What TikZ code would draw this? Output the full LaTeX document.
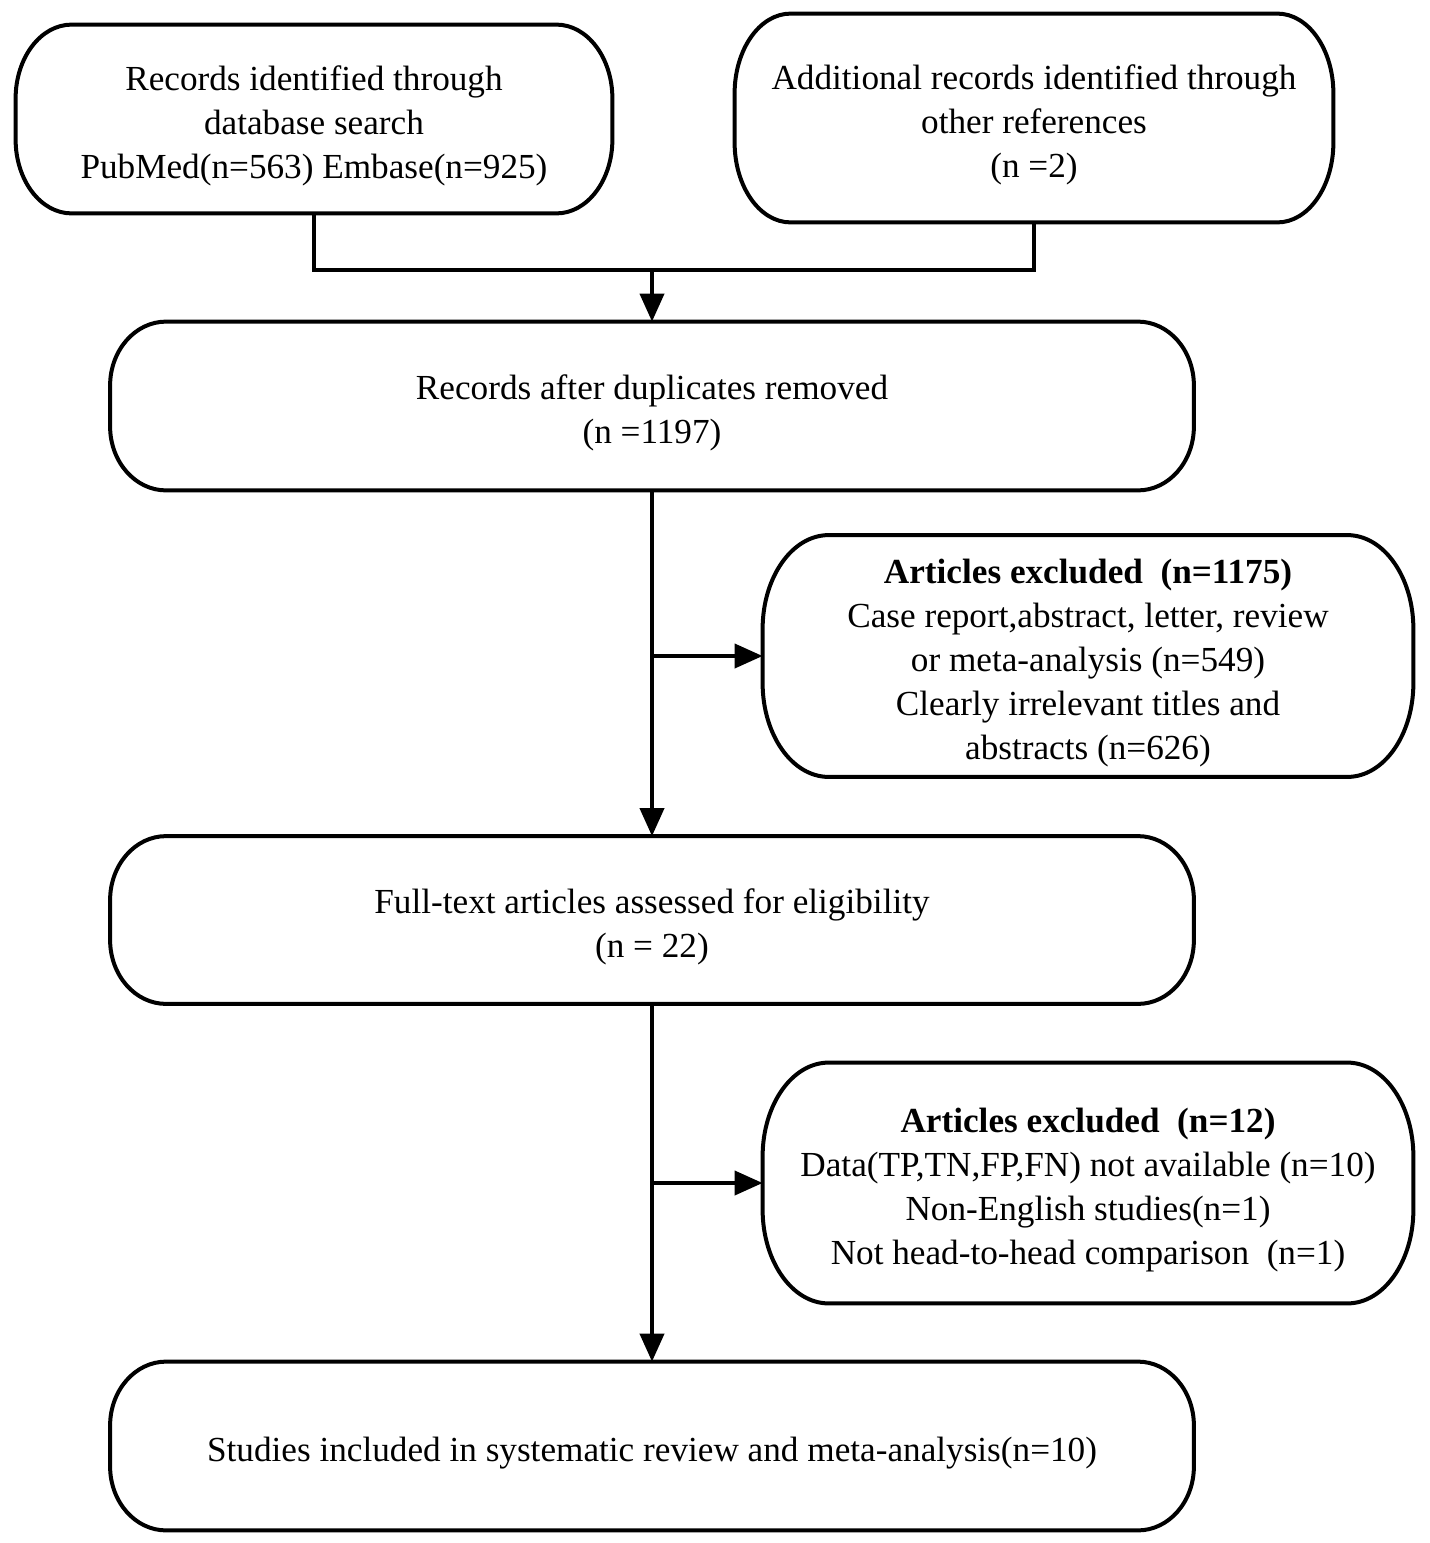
\documentclass[tikz,border=0pt]{standalone}
\usepackage{fontspec}
\setmainfont{Liberation Serif}
\usetikzlibrary{arrows.meta}
\newcommand\topfix{\rule{0pt}{19pt}}
% elliptical-corner border around a named node: #1 name, #2 x radius, #3 y radius
\newcommand\eborder[3]{%
  \draw[line width=2pt]
    ([xshift=#2]#1.north west) -- ([xshift=-#2]#1.north east)
    arc[start angle=90,end angle=0,x radius=#2,y radius=#3]
    -- ([yshift=#3]#1.south east)
    arc[start angle=0,end angle=-90,x radius=#2,y radius=#3]
    -- ([xshift=#2]#1.south west)
    arc[start angle=-90,end angle=-180,x radius=#2,y radius=#3]
    -- ([yshift=-#3]#1.north west)
    arc[start angle=180,end angle=90,x radius=#2,y radius=#3] -- cycle;}
\begin{document}
\begin{tikzpicture}[x=0.5pt,y=-0.5pt,
  box/.style={align=center,font=\fontsize{17.6}{22}\selectfont,inner sep=0pt},
  conn/.style={line width=2pt},
  arr/.style={line width=2pt,-{Triangle[length=14pt,width=12pt]}}]
\fill[white] (0,0) rectangle (1430,1543);
\useasboundingbox (0,0) rectangle (1430,1543);
\node[box,minimum width=298pt,minimum height=94pt] (a) at (314,119)
  {\topfix Records identified through\\database search\\PubMed(n=563) Embase(n=925)};
\node[box,minimum width=299pt,minimum height=104pt] (b) at (1034,118)
  {\topfix Additional records identified through\\other references\\(n =2)};
\node[box,minimum width=541.5pt,minimum height=84pt] (c) at (652,406)
  {\topfix Records after duplicates removed\\(n =1197)};
\node[box,minimum width=325pt,minimum height=120.5pt] (d) at (1088,656)
  {\topfix\textbf{Articles excluded\ \ (n=1175)}\\Case report,abstract, letter, review\\or meta-analysis (n=549)\\Clearly irrelevant titles and\\abstracts (n=626)};
\node[box,minimum width=541.5pt,minimum height=83.5pt] (e) at (652,920)
  {\topfix Full-text articles assessed for eligibility\\(n = 22)};
\node[box,minimum width=325pt,minimum height=120pt] (f) at (1088,1183)
  {\topfix\textbf{Articles excluded\ \ (n=12)}\\Data(TP,TN,FP,FN) not available (n=10)\\Non-English studies(n=1)\\Not head-to-head comparison\ \ (n=1)};
\node[box,minimum width=541.5pt,minimum height=84pt] (g) at (652,1446)
  {\topfix Studies included in systematic review and meta-analysis(n=10)};
\eborder{a}{28pt}{37pt}
\eborder{b}{28pt}{40pt}
\eborder{c}{28pt}{32pt}
\eborder{d}{33pt}{47pt}
\eborder{e}{28pt}{32pt}
\eborder{f}{33pt}{47pt}
\eborder{g}{28pt}{32pt}
\coordinate (j) at (652,270);
\draw[conn] (a.south) |- (j);
\draw[conn] (b.south) |- (j);
\draw[arr] (j) -- (c.north);
\draw[arr] (c.south) -- (e.north);
\draw[arr] (c.south |- d.west) -- (d.west);
\draw[arr] (e.south) -- (g.north);
\draw[arr] (e.south |- f.west) -- (f.west);
\end{tikzpicture}
\end{document}
